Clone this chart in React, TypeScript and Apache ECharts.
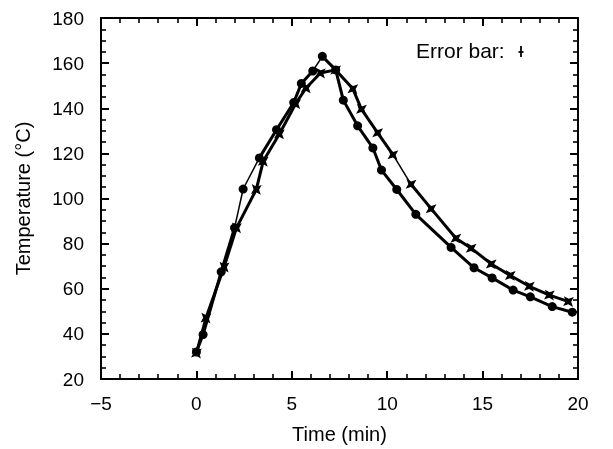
import React, { useEffect, useRef } from "react";
import * as echarts from "echarts";

// Series A (filled circles): time (min), temperature (°C)
const circleTime = [0, 0.35, 1.3, 2.0, 2.45, 3.3, 4.2, 5.1, 5.5, 6.1, 6.6, 7.3, 7.7, 8.45, 9.25, 9.7, 10.5, 11.5, 13.35, 14.55, 15.5, 16.6, 17.5, 18.65, 19.7];
const circleTemp = [32, 39.7, 67.5, 87, 104.2, 118, 130.5, 142.5, 151, 156.5, 163, 157, 143.6, 132.2, 122.4, 112.6, 104, 93, 78.3, 69.3, 64.8, 59.4, 56.4, 52.1, 49.6];
// segments (starting index) drawn with a thin line in the original
const circleThin = [3, 4, 9];

// Series B (crosses)
const crossTime = [0, 0.5, 1.45, 2.1, 3.14, 3.5, 4.35, 5.2, 5.75, 6.5, 7.3, 8.2, 8.65, 9.5, 10.3, 11.25, 12.3, 13.6, 14.4, 15.45, 16.45, 17.45, 18.5, 19.5];
const crossTemp = [31.5, 47, 69.6, 87, 104, 116.5, 128.6, 142, 149, 155.6, 157, 148.6, 139.6, 129.1, 119.4, 106.3, 95.5, 82.4, 78, 71, 65.9, 61.1, 57.2, 54.3];
const crossThin = [14];

const xTicks = { min: -5, max: 20, interval: 5 };
const yTicks = { min: 20, max: 180, interval: 20 };

const FONT = "Liberation Sans";
const crossPath = "path://M0,-10 L2.8,-2.8 L10,0 L2.8,2.8 L0,10 L-2.8,2.8 L-10,0 L-2.8,-2.8 Z";

function segmentSeries(xs: number[], ys: number[], thin: number[]) {
  const out: any[] = [];
  for (let i = 0; i < xs.length - 1; i++) {
    out.push({
      type: "line",
      data: [[xs[i], ys[i]], [xs[i + 1], ys[i + 1]]],
      symbol: "none",
      silent: true,
      z: 2,
      lineStyle: { color: "#000", width: thin.includes(i) ? 1.5 : 3 },
    });
  }
  return out;
}

export default function App() {
  const ref = useRef<HTMLDivElement>(null);
  useEffect(() => {
    if (!ref.current) return;
    const chart = echarts.init(ref.current, null, { renderer: "svg" });
    const axisCommon = {
      type: "value",
      splitLine: { show: false },
      axisLine: { show: true, onZero: false, lineStyle: { color: "#000", width: 2 } },
      axisTick: { show: true, inside: true, length: 8, lineStyle: { color: "#000", width: 2 } },
      minorTick: { show: true, length: 5, lineStyle: { color: "#000", width: 1.6 } },
      minorSplitLine: { show: false },
    };
    const fmt = (v: number) => (v < 0 ? "\u2212" + Math.abs(v) : String(v));
    chart.setOption({
      animation: false,
      grid: { left: 101, right: 35, top: 18, bottom: 66 },
      xAxis: [
        {
          ...axisCommon,
          ...xTicks,
          position: "bottom",
          minorTick: { ...axisCommon.minorTick, splitNumber: 5 },
          axisLabel: { color: "#000", fontSize: 19, fontFamily: FONT, margin: 15, formatter: fmt },
          name: "Time (min)",
          nameLocation: "middle",
          nameGap: 45,
          nameTextStyle: { color: "#000", fontSize: 20, fontFamily: FONT },
        },
        {
          ...axisCommon,
          ...xTicks,
          position: "top",
          minorTick: { ...axisCommon.minorTick, splitNumber: 5 },
          axisLabel: { show: false },
        },
      ],
      yAxis: [
        {
          ...axisCommon,
          ...yTicks,
          position: "left",
          minorTick: { ...axisCommon.minorTick, splitNumber: 4 },
          axisLabel: { color: "#000", fontSize: 19, fontFamily: FONT, margin: 17 },
          name: "Temperature (\u00B0C)",
          nameLocation: "middle",
          nameGap: 68,
          nameTextStyle: { color: "#000", fontSize: 20, fontFamily: FONT },
        },
        {
          ...axisCommon,
          ...yTicks,
          position: "right",
          minorTick: { ...axisCommon.minorTick, splitNumber: 4 },
          axisLabel: { show: false },
        },
      ],
      series: [
        ...segmentSeries(circleTime, circleTemp, circleThin),
        ...segmentSeries(crossTime, crossTemp, crossThin),
        {
          type: "scatter",
          z: 3,
          data: circleTime.map((t, i) => [t, circleTemp[i]]),
          symbol: "circle",
          symbolSize: 9,
          itemStyle: { color: "#000", opacity: 1 },
        },
        {
          type: "scatter",
          z: 3,
          data: crossTime.map((t, i) => [t, crossTemp[i]]),
          symbol: crossPath,
          symbolSize: 14,
          symbolRotate: 40,
          itemStyle: { color: "#000", opacity: 1 },
        },
      ],
      graphic: [
        {
          type: "text",
          left: 416,
          top: 40,
          style: { text: "Error bar:", fill: "#000", fontSize: 21, fontFamily: FONT },
        },
        {
          type: "line",
          shape: { x1: 521, y1: 46, x2: 521, y2: 57 },
          style: { stroke: "#000", lineWidth: 1.8 },
        },
        {
          type: "line",
          shape: { x1: 518.5, y1: 52, x2: 523.5, y2: 52 },
          style: { stroke: "#000", lineWidth: 1.8 },
        },
      ],
    });
    return () => chart.dispose();
  }, []);
  return <div ref={ref} style={{ position: "fixed", left: 0, top: 0, width: 613, height: 449 }} />;
}
